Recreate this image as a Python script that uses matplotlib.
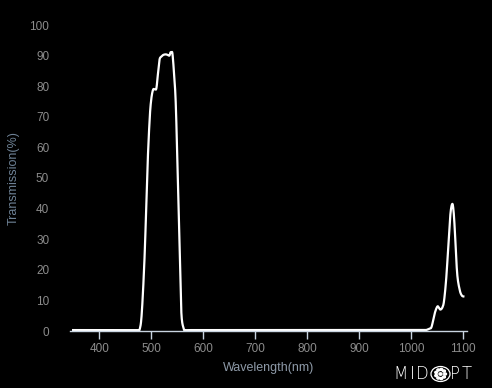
import numpy as np
import matplotlib
matplotlib.use("Agg")
import matplotlib.pyplot as plt
from matplotlib.patches import Circle

# Data
wavelength = [350, 400, 450, 470, 474, 478, 482, 487.5, 492.7, 497, 500, 503.5, 507, 510, 513,
              516, 519, 523, 528, 532, 535, 537, 539, 541, 544, 547, 550, 555, 558, 562.5, 566,
              580, 650, 700, 800, 900, 1000, 1025, 1030, 1035, 1039, 1045, 1050, 1053, 1056,
              1060, 1063, 1067, 1071, 1075, 1078.5, 1081, 1083.6, 1088, 1093, 1097, 1100]
transmission = [0.3, 0.3, 0.3, 0.3, 0.3, 0.6, 6, 25, 52.6, 69, 75.5, 78.8, 79, 79.3, 84,
                88.6, 89.6, 90.2, 90.4, 90.2, 90.0, 91.0, 91.1, 90.5, 84, 75.5, 58, 25, 6, 0.8, 0.3,
                0.3, 0.3, 0.3, 0.3, 0.3, 0.3, 0.3, 0.4, 0.8, 1.4, 5.8, 8, 7.6, 7,
                7.8, 10, 17, 27.5, 38, 41.5, 39.5, 33, 19, 13.4, 11.6, 11.3]
xticks = [400, 500, 600, 700, 800, 900, 1000, 1100]
yticks = [0, 10, 20, 30, 40, 50, 60, 70, 80, 90, 100]

plt.rcParams['font.family'] = ['Liberation Sans', 'DejaVu Sans']

fig = plt.figure(figsize=(4.92, 3.88), dpi=100, facecolor='black')
ax = fig.add_axes([70/492, 57/388, 397/492, 306/388], facecolor='black')

wl = np.array(wavelength); tr = np.array(transmission)

def catmull(x, y, n=20):
    X, Y = [], []
    P = np.column_stack([x, y])
    P = np.vstack([P[0], P, P[-1]])
    for i in range(1, len(P) - 2):
        p0, p1, p2, p3 = P[i-1], P[i], P[i+1], P[i+2]
        t = np.linspace(0, 1, n, endpoint=False)[:, None]
        pts = 0.5 * ((2*p1) + (-p0 + p2)*t + (2*p0 - 5*p1 + 4*p2 - p3)*t**2 + (-p0 + 3*p1 - 3*p2 + p3)*t**3)
        X.extend(pts[:, 0]); Y.extend(pts[:, 1])
    X.append(x[-1]); Y.append(y[-1])
    return np.array(X), np.clip(np.array(Y), 0, None)

cx, cy = catmull(wl, tr)
ax.plot(cx, cy, color='white', lw=1.6, solid_joinstyle='round')

ax.set_xlim(344, 1107)
ax.set_ylim(0, 100)
ax.set_xticks(xticks)
ax.set_yticks(yticks)
ax.set_yticklabels([str(v) for v in yticks])

for s in ['top', 'right', 'left']:
    ax.spines[s].set_visible(False)
ax.spines['bottom'].set_color('#c8d4e0')
ax.spines['bottom'].set_linewidth(1.0)
ax.tick_params(axis='x', direction='out', length=6, width=1, color='#c8d4e0',
               labelcolor='#8c8c8c', labelsize=8.5, pad=3)
ax.tick_params(axis='y', length=0, labelcolor='#8c8c8c', labelsize=8.5, pad=15)

ax.set_xlabel('Wavelength(nm)', color='#8e9aa8', fontsize=9, labelpad=5)
ax.set_ylabel('Transmission(%)', color='#6e8296', fontsize=9)
ax.yaxis.set_label_coords(-(70 - 20) / 397, 0.5)

# Logo (letters placed individually for wide spacing)
ty = 1 - 374/388
for ch, xc in [('M', 400), ('I', 412), ('D', 422.5), ('P', 455), ('T', 466.5)]:
    fig.text(xc/492, ty, ch, color='white', fontsize=12, va='center', ha='center',
             family=['DejaVu Sans'], fontweight='light')
cxp, cyp, r = 440.5, 374, 7.5
fig.patches.append(Circle((cxp/492, 1 - cyp/388), r/388, transform=fig.transFigure,
                          fill=False, ec='white', lw=0.9))
for k in range(9):
    a = 2*np.pi*k/9
    fig.patches.append(Circle(((cxp + 4.6*np.cos(a))/492, 1 - (cyp + 4.6*np.sin(a))/388), 1.1/388,
                              transform=fig.transFigure, color='white'))
fig.patches.append(Circle((cxp/492, 1 - cyp/388), 1.2/388, transform=fig.transFigure, color='white'))

fig.savefig('out.png', dpi=100, facecolor='black')
